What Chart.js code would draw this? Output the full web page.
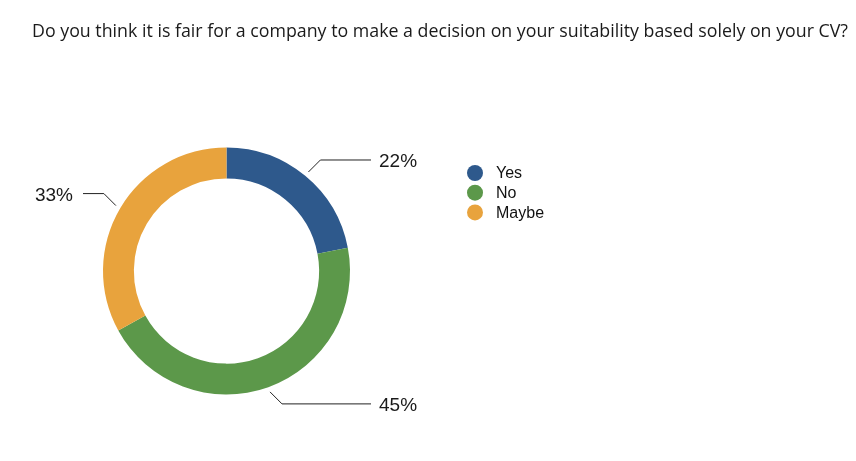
<!DOCTYPE html>
<html>
<head>
<meta charset="utf-8">
<title>CV fairness donut</title>
<script src="https://cdn.jsdelivr.net/npm/chart.js@4.4.1/dist/chart.umd.min.js"></script>
<style>
    html, body { margin: 0; padding: 0; background: #fff; }
    #wrap { width: 856px; height: 461px; position: relative; }
</style>
<script>
    var title = 'Do you think it is fair for a company to make a decision on your suitability based solely on your CV?';
    var labels = ['Yes', 'No', 'Maybe'];
    var values = [22, 45, 33];
    var colors = ['#2e598c', '#5c984a', '#e8a33d'];
</script>
</head>
<body>
<div id="wrap"><canvas id="myChart" width="856" height="461"></canvas></div>
<script>
    // title, leader lines with percentages, and the legend on the right
    var extras = {
        id: 'extras',
        afterDraw: function(chart) {
            var ctx = chart.ctx;
            ctx.save();

            ctx.fillStyle = '#1a1a1a';
            ctx.font = '17.8px "Open Sans"';
            ctx.textAlign = 'left';
            ctx.textBaseline = 'alphabetic';
            ctx.fillText(title, 32, 37);

            var arcs = chart.getDatasetMeta(0).data;
            var total = values.reduce(function(a, b) { return a + b; }, 0);
            arcs.forEach(function(arc, i) {
                var p = arc.getProps(['x', 'y', 'startAngle', 'endAngle', 'outerRadius'], true);
                var mid = (p.startAngle + p.endAngle) / 2;
                var r1 = p.outerRadius + 5;
                var x1 = p.x + Math.cos(mid) * r1, y1 = p.y + Math.sin(mid) * r1;
                var right = Math.cos(mid) >= 0;
                var down = Math.sin(mid) >= 0;
                // short 45 degree elbow, then straight across
                var x2 = x1 + (right ? 12 : -12), y2 = y1 + (down ? 12 : -12);
                var x3 = right ? 371 : 83;

                ctx.strokeStyle = '#222';
                ctx.lineWidth = 1;
                ctx.beginPath();
                ctx.moveTo(x1, y1);
                ctx.lineTo(x2, y2);
                ctx.lineTo(x3, y2);
                ctx.stroke();

                ctx.fillStyle = '#1a1a1a';
                ctx.font = '19px "Liberation Sans", Arial, sans-serif';
                ctx.textBaseline = 'middle';
                ctx.textAlign = right ? 'left' : 'right';
                var pct = Math.round(values[i] / total * 100) + '%';
                ctx.fillText(pct, right ? x3 + 8 : x3 - 10, y2 + 2);
            });

            ctx.font = '16px "Liberation Sans", Arial, sans-serif';
            ctx.textAlign = 'left';
            ctx.textBaseline = 'middle';
            labels.forEach(function(l, i) {
                var y = 173 + i * 19.7;
                ctx.fillStyle = colors[i];
                ctx.beginPath();
                ctx.arc(475, y, 8, 0, Math.PI * 2);
                ctx.fill();
                ctx.fillStyle = '#111';
                ctx.fillText(l, 496, y + 1);
            });
            ctx.restore();
        }
    };

    new Chart(document.getElementById('myChart'), {
        type: 'doughnut',
        data: {
            labels: labels,
            datasets: [{
                data: values,
                backgroundColor: colors,
                borderWidth: 0
            }]
        },
        options: {
            responsive: false,
            animation: false,
            cutout: '75%',
            layout: { padding: { left: 103, right: 506, top: 147.5, bottom: 66.5 } },
            plugins: {
                legend: { display: false },
                title: { display: false },
                tooltip: { enabled: false }
            }
        },
        plugins: [extras]
    });
</script>
</body>
</html>
